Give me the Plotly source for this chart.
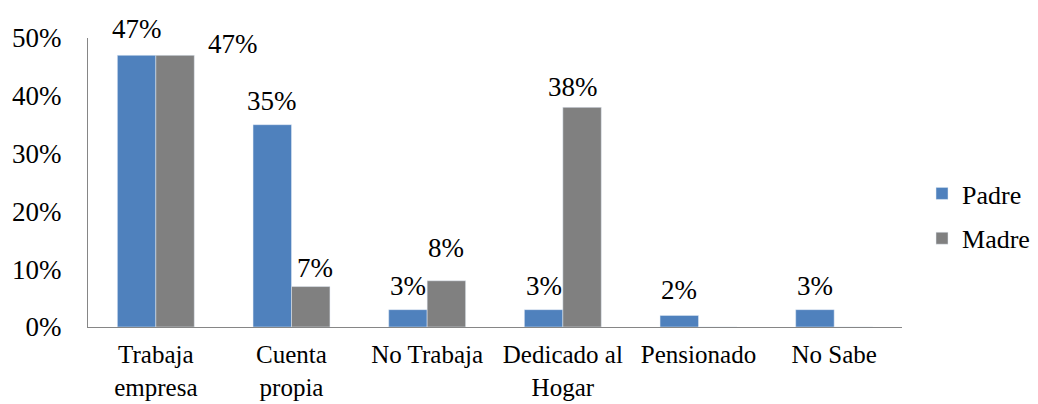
import plotly.graph_objects as go

categories = ["Trabaja<br>empresa", "Cuenta<br>propia", "No Trabaja",
              "Dedicado al<br>Hogar", "Pensionado", "No Sabe"]
padre = [47, 35, 3, 3, 2, 3]
madre = [47, 7, 8, 38, 0, 0]
y_ticks = [0, 10, 20, 30, 40, 50]

# label offsets (px) relative to each bar's top centre
padre_dx = [0, 0, 0, 0, 0, 0]
padre_dy = [26, 24, 24, 24, 25, 24]
madre_dx = [58, 4, 0, -9, 0, 0]
madre_dy = [11, 19, 33, 20, 0, 0]

FONT = "Liberation Serif"
FS = 27
BLUE = "#4F81BD"
GREY = "#808080"
AXIS = "#868686"

fig = go.Figure()
fig.add_trace(go.Bar(x=categories, y=padre, name="Padre", marker_color=BLUE,
                     legendgroup="a"))
fig.add_trace(go.Bar(x=categories, y=madre, name="Madre", marker_color=GREY,
                     legendgroup="b"))

half = 19.25
annotations = []
for i, c in enumerate(categories):
    if padre[i] > 0:
        annotations.append(dict(x=c, y=padre[i], text=f"{padre[i]}%", showarrow=False,
                                xshift=-half + padre_dx[i], yshift=padre_dy[i],
                                yanchor="middle", font=dict(family=FONT, size=FS, color="black")))
    if madre[i] > 0:
        annotations.append(dict(x=c, y=madre[i], text=f"{madre[i]}%", showarrow=False,
                                xshift=half + madre_dx[i], yshift=madre_dy[i],
                                yanchor="middle", font=dict(family=FONT, size=FS, color="black")))

# page body adds an 8px offset; figure is sized to fill the rest of the window
fig.update_layout(
    width=1030, height=396,
    margin=dict(l=80, r=136, t=30, b=77, autoexpand=False),
    paper_bgcolor="white", plot_bgcolor="white",
    barmode="group", bargap=0.433, bargroupgap=0,
    font=dict(family=FONT, size=FS, color="black"),
    annotations=annotations,
    legend=dict(x=1.0246, xanchor="left", y=0.384, yanchor="middle",
                font=dict(family=FONT, size=26), traceorder="grouped",
                tracegroupgap=8, bgcolor="rgba(0,0,0,0)"),
    xaxis=dict(showline=True, linecolor=AXIS, linewidth=1, showgrid=False,
               ticks="", ticklabelstandoff=5, automargin=False,
               tickfont=dict(family=FONT, size=25), fixedrange=True),
    yaxis=dict(range=[0, 50], tickvals=y_ticks, ticktext=[f"{v}%" for v in y_ticks],
               showline=True, linecolor=AXIS, linewidth=1, showgrid=False,
               zeroline=False, ticks="", ticklabelstandoff=20, automargin=False,
               tickfont=dict(family=FONT, size=FS)),
)

fig.write_html("out.html")
